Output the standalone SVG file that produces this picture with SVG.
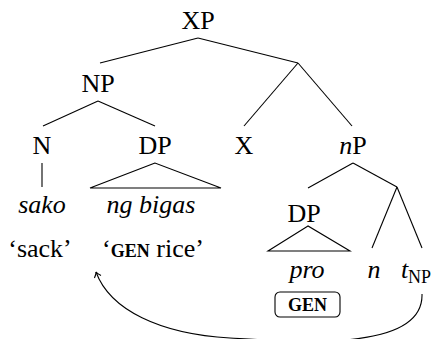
<svg xmlns="http://www.w3.org/2000/svg" width="440" height="339" viewBox="0 0 440 339">
<style>
text{font-family:'Liberation Serif';font-size:26px;fill:#000;text-anchor:middle}
.i{font-style:italic}
.sc{font-size:18px;font-weight:bold}
.sub{font-size:18px}
line,polyline,path{stroke:#000;stroke-width:1.1;fill:none}
</style>
<defs>
<marker id="ah" markerWidth="10" markerHeight="10" refX="0" refY="0" viewBox="-6 -5 8 10" orient="auto" markerUnits="userSpaceOnUse">
<path d="M-5,-3.5 Q-2,-0.5 0,0 Q-2,0.5 -5,3.5" stroke-width="0.9"/>
</marker>
</defs>
<g id="connectors">
<line x1="198" y1="38" x2="100" y2="63"/>
<line x1="198" y1="38" x2="298" y2="63"/>
<line x1="98" y1="101" x2="43" y2="126"/>
<line x1="98" y1="101" x2="155" y2="126"/>
<line x1="298" y1="63" x2="244" y2="126"/>
<line x1="298" y1="63" x2="352" y2="126"/>
<line x1="42" y1="163" x2="42" y2="187"/>
<polygon points="155,163 90,188 221,188" fill="none" stroke="#000" stroke-width="1.1"/>
<line x1="353" y1="163" x2="308" y2="188"/>
<line x1="353" y1="163" x2="397" y2="187"/>
<line x1="397" y1="187" x2="372" y2="248"/>
<line x1="397" y1="187" x2="422" y2="248"/>
<polygon points="308,226 268,251 350,251" fill="none" stroke="#000" stroke-width="1.1"/>
<path d="M422,294 C424,352 300,342 230,338 C160,334 110,310 96,272" marker-end="url(#ah)"/>
</g>
<g id="XP"><text font-family="Liberation Serif" x="198" y="29">XP</text></g>
<g id="NP"><text font-family="Liberation Serif" x="98" y="92">NP</text></g>
<g id="N"><text font-family="Liberation Serif" x="42" y="154">N</text></g>
<g id="DP1"><text font-family="Liberation Serif" x="155" y="154">DP</text></g>
<g id="X"><text font-family="Liberation Serif" x="244" y="154">X</text></g>
<g id="nP"><text font-family="Liberation Serif" x="353" y="154"><tspan class="i">n</tspan>P</text></g>
<g id="sako"><text font-family="Liberation Serif" class="i" x="42" y="213">sako</text><text font-family="Liberation Serif" x="40" y="257">‘sack’</text></g>
<g id="ngbigas"><text font-family="Liberation Serif" class="i" x="151" y="213">ng bigas</text><text font-family="Liberation Serif" x="153" y="257">‘<tspan class="sc">GEN</tspan> rice’</text></g>
<g id="DP2"><text font-family="Liberation Serif" x="304" y="222">DP</text></g>
<g id="pro"><text font-family="Liberation Serif" class="i" x="307" y="278">pro</text></g>
<g id="n"><text font-family="Liberation Serif" class="i" x="374" y="278">n</text></g>
<g id="tNP"><text font-family="Liberation Serif" x="416" y="278"><tspan class="i">t</tspan><tspan class="sub" dy="5">NP</tspan></text></g>
<g id="GEN"><rect x="275" y="292" width="65" height="25" rx="5" fill="none" stroke="#000" stroke-width="1.1"/><text font-family="Liberation Serif" class="sc" x="307.5" y="311">GEN</text></g>
</svg>
